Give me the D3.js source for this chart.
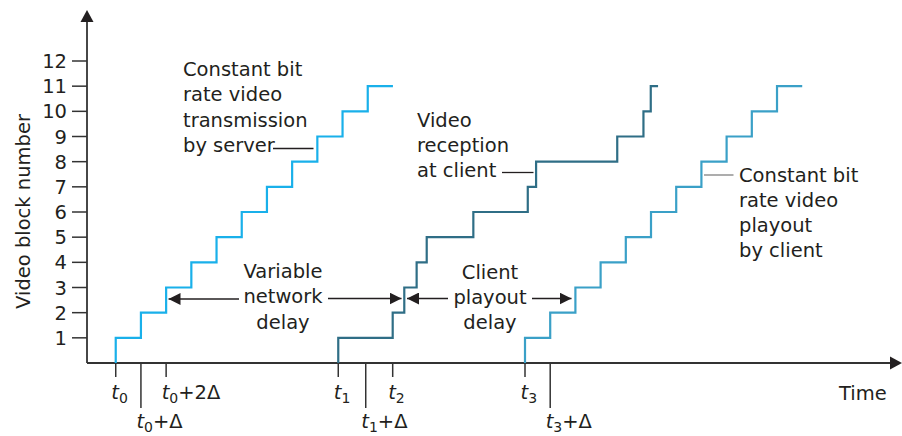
<!DOCTYPE html>
<html>
<head>
<meta charset="utf-8">
<script src="https://cdn.jsdelivr.net/npm/d3@7"></script>
<style>
  body { margin: 0; background: #fff; }
  svg { display: block; }
  text { font-family: "DejaVu Sans", "Open Sans", sans-serif; fill: #231f20; }
</style>
</head>
<body>
<svg id="chart" width="902" height="436"></svg>
<script>
// block numbers on the y axis
const yTicks = [1, 2, 3, 4, 5, 6, 7, 8, 9, 10, 11, 12];

// times are in units of Δ (one block period)
// step times for blocks 1..11, last value = end of block 11
const serverTimes = [1.14, 2.14, 3.14, 4.14, 5.14, 6.14, 7.14, 8.14, 9.14, 10.14, 11.14, 12.14];
const receptionTimes = [9.97, 12.13, 12.59, 13.08, 13.48, 15.33, 17.49, 17.82, 21.04, 22.08, 22.37, 22.66];
const playoutTimes = [17.38, 18.38, 19.38, 20.38, 21.38, 22.38, 23.38, 24.38, 25.38, 26.38, 27.38, 28.38];

// time axis marks
const xTickLabels = ['t0', 't0+Δ', 't0+2Δ', 't1', 't1+Δ', 't2', 't3', 't3+Δ'];
const xTickTimes = [1.14, 2.14, 3.14, 9.97, 11.06, 12.13, 17.38, 18.38];
const xTickLong = [false, true, false, false, true, false, false, true];

const svg = d3.select('#chart');

const x = d3.scaleLinear().domain([0, 32.26]).range([87, 900]);
const y = d3.scaleLinear().domain([0, 12]).range([363, 61]);

const axisColor = '#333';
const fs = 19.5;

// arrowhead marker
svg.append('defs').append('marker')
    .attr('id', 'arrow')
    .attr('viewBox', '0 0 12 12')
    .attr('refX', 12)
    .attr('refY', 6)
    .attr('markerWidth', 12)
    .attr('markerHeight', 12)
    .attr('markerUnits', 'userSpaceOnUse')
    .attr('orient', 'auto')
    .append('path')
    .attr('d', 'M0,0 L12,6 L0,12 Z')
    .attr('fill', '#231f20');

// y axis line + arrow
svg.append('line')
    .attr('x1', x(0)).attr('y1', y(0))
    .attr('x2', x(0)).attr('y2', 22)
    .attr('stroke', axisColor).attr('stroke-width', 1.8);
svg.append('path')
    .attr('d', `M${x(0) - 6.5},22 L${x(0)},10 L${x(0) + 6.5},22 Z`)
    .attr('fill', '#231f20');

// x axis line + arrow
svg.append('line')
    .attr('x1', x(0)).attr('y1', y(0))
    .attr('x2', 890).attr('y2', y(0))
    .attr('stroke', axisColor).attr('stroke-width', 1.8);
svg.append('path')
    .attr('d', `M890,${y(0) - 6.5} L902,${y(0)} L890,${y(0) + 6.5} Z`)
    .attr('fill', '#231f20');

// y ticks
const yt = svg.selectAll('.ytick')
    .data(yTicks)
    .enter()
    .append('g')
    .attr('class', 'ytick');
yt.append('line')
    .attr('x1', 72).attr('x2', x(0))
    .attr('y1', d => y(d)).attr('y2', d => y(d))
    .attr('stroke', axisColor).attr('stroke-width', 1.5);
yt.append('text')
    .attr('x', 67)
    .attr('y', d => y(d))
    .attr('dy', '0.36em')
    .attr('text-anchor', 'end')
    .attr('font-size', fs)
    .text(d => d);

// y title
svg.append('text')
    .attr('transform', 'translate(30, 211.5) rotate(-90)')
    .attr('text-anchor', 'middle')
    .attr('font-size', fs)
    .text('Video block number');

// x ticks
xTickTimes.forEach((t, i) => {
    const long = xTickLong[i];
    svg.append('line')
        .attr('x1', x(t)).attr('x2', x(t))
        .attr('y1', y(0)).attr('y2', long ? 408 : 377)
        .attr('stroke', axisColor).attr('stroke-width', 1.5);

    const label = xTickLabels[i];
    const txt = svg.append('text')
        .attr('x', x(t) - 4.5)
        .attr('y', long ? 428 : 399)
        .attr('font-size', fs);
    txt.append('tspan').attr('font-style', 'italic').text(label[0]);
    txt.append('tspan').attr('font-size', 14).attr('dy', 3.5).text(label[1]);
    if (label.length > 2) {
        txt.append('tspan').attr('dy', -3.5).text(label.slice(2));
    }
});

// Time label
svg.append('text')
    .attr('x', 839).attr('y', 400)
    .attr('font-size', fs)
    .text('Time');

// step lines
const line = d3.line()
    .x(d => x(d[0]))
    .y(d => y(d[1]))
    .curve(d3.curveStepBefore);

const series = [
    { times: serverTimes, color: '#19b0ea' },
    { times: receptionTimes, color: '#2f6e86' },
    { times: playoutTimes, color: '#3aa0c7' }
];

svg.selectAll('.step')
    .data(series)
    .enter()
    .append('path')
    .attr('class', 'step')
    .attr('d', d => line(d.times.map((t, i) => [t, i])))
    .attr('fill', 'none')
    .attr('stroke', d => d.color)
    .attr('stroke-width', 2.2);

// multi-line labels
function block(lines, px, py, anchor) {
    const t = svg.append('text')
        .attr('font-size', fs)
        .attr('text-anchor', anchor || 'start');
    lines.forEach((s, i) => {
        t.append('tspan').attr('x', px).attr('y', py + i * 25.3).text(s);
    });
}

block(['Constant bit', 'rate video', 'transmission', 'by server'], 183, 76);
block(['Video', 'reception', 'at client'], 417, 126.5);
block(['Constant bit', 'rate video', 'playout', 'by client'], 739, 181.5);
block(['Variable', 'network', 'delay'], 283, 278, 'middle');
block(['Client', 'playout', 'delay'], 490, 278.5, 'middle');

// leader lines
const leaders = [
    [273, 313.5, 148.5, '#231f20'],
    [502, 533.5, 172.5, '#231f20'],
    [704, 733.5, 175, '#808080']
];
leaders.forEach(l => {
    svg.append('line')
        .attr('x1', l[0]).attr('x2', l[1])
        .attr('y1', l[2]).attr('y2', l[2])
        .attr('stroke', l[3]).attr('stroke-width', 1.3);
});

// delay arrows
const arrows = [
    [239, 168.5, 299],
    [328, 401.5, 298.5],
    [448, 407, 298.5],
    [532, 571.5, 298.5]
];
arrows.forEach(a => {
    svg.append('line')
        .attr('x1', a[0]).attr('x2', a[1])
        .attr('y1', a[2]).attr('y2', a[2])
        .attr('stroke', '#231f20').attr('stroke-width', 1.3)
        .attr('marker-end', 'url(#arrow)');
});
</script>
</body>
</html>
